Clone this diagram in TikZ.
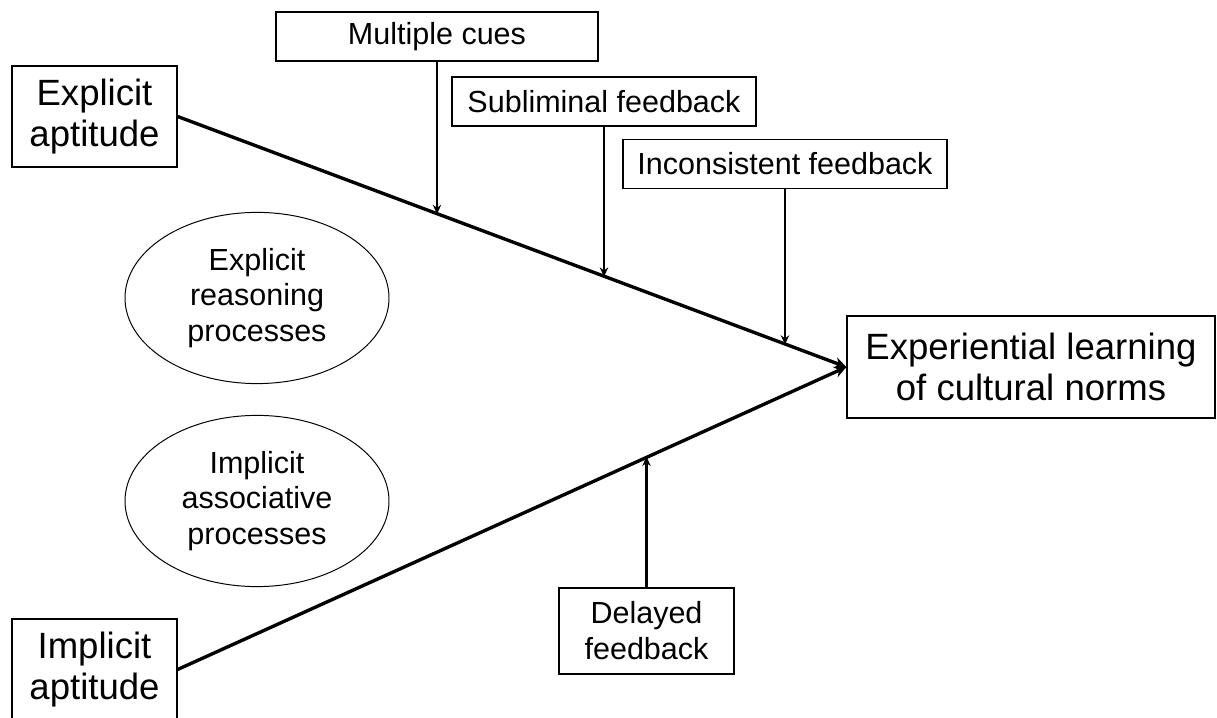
\documentclass[tikz,border=0pt]{standalone}
\usepackage{fontspec}
\setmainfont{Liberation Sans}
\usetikzlibrary{arrows.meta, positioning, calc, shapes.geometric}

\begin{document}
\begin{tikzpicture}[>=Stealth,
  bigbox/.style={draw, line width=0.9pt, align=center, inner sep=0pt,
    font=\fontsize{26}{29.5}\selectfont},
  cuebox/.style={draw, line width=0.9pt, align=center, inner sep=0pt,
    minimum height=1.22cm, font=\fontsize{21.7}{25.5}\selectfont},
  procoval/.style={draw, ellipse, line width=0.7pt, align=center,
    inner sep=0pt, minimum width=6.6cm, minimum height=4.28cm,
    font=\fontsize{21.7}{25.3}\selectfont},
  mainline/.style={line width=2.4pt, -{Stealth[length=8.5pt, width=8pt]}},
  cueline/.style={line width=1.6pt, -{Stealth[length=6.5pt, width=6pt]}}]
  \useasboundingbox (0, 0) rectangle (30.425, 17.925);

  % Aptitudes and outcome
  \node[bigbox, minimum width=4.125cm, minimum height=2.525cm]
    (explicit) at (2.3625, 15.0125) {Explicit\\aptitude};
  \node[bigbox, minimum width=4.125cm, minimum height=2.525cm]
    (implicit) at (2.3625, 1.1875) {Implicit\\aptitude};
  \node[bigbox, minimum width=9.2cm, minimum height=2.55cm]
    (outcome) at (25.775, 8.75) {Experiential learning\\of cultural norms};

  % Processes
  \node[procoval] (reason) at (6.425, 10.475)
    {Explicit\\reasoning\\processes};
  \node[procoval] (assoc) at (6.425, 5.4)
    {Implicit\\associative\\processes};

  % Moderators
  \node[cuebox, minimum width=8.05cm] (multcues) at (10.925, 17.0125)
    {Multiple cues};
  \node[cuebox, minimum width=7.6cm] (sublim) at (15.1, 15.3875)
    {Subliminal feedback};
  \node[cuebox, minimum width=8.1cm] (incons) at (19.625, 13.825)
    {Inconsistent feedback};
  \node[cuebox, minimum width=4.375cm, minimum height=2.15cm]
    (delayed) at (16.1625, 2.15) {Delayed\\feedback};

  % Main paths
  \draw[mainline] (explicit.east) -- (outcome.west);
  \draw[mainline] (implicit.east) -- (outcome.west);

  % Points where the moderators meet the paths
  \coordinate (hitcues) at ($(explicit.east)!0.389!(outcome.west)$);
  \coordinate (hitsub) at ($(explicit.east)!0.639!(outcome.west)$);
  \coordinate (hitinc) at ($(explicit.east)!0.910!(outcome.west)$);
  \coordinate (hitdel) at ($(implicit.east)!0.703!(outcome.west)$);

  \draw[cueline] (multcues.south) -- (multcues.south |- hitcues);
  \draw[cueline] (sublim.south) -- (sublim.south |- hitsub);
  \draw[cueline] (incons.south) -- (incons.south |- hitinc);
  \draw[cueline] (delayed.north) -- (delayed.north |- hitdel);
\end{tikzpicture}
\end{document}
